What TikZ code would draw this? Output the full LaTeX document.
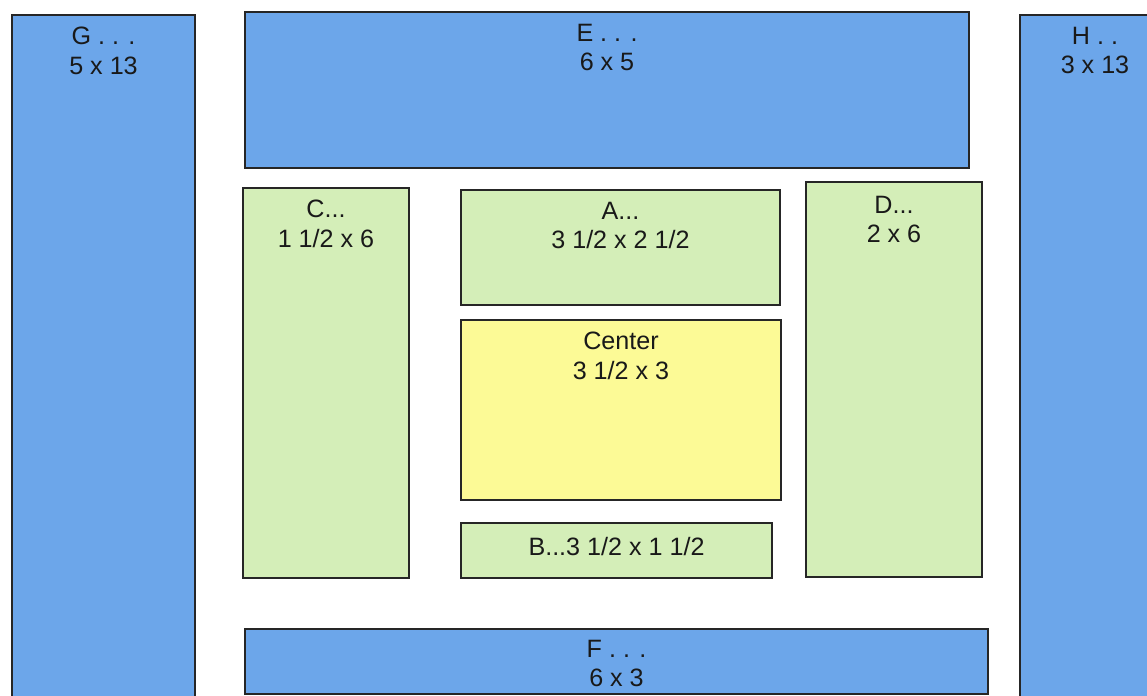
\documentclass[tikz,border=0pt]{standalone}
\usepackage{fontspec}
\setmainfont{Liberation Sans}
\usetikzlibrary{fit}

\definecolor{bedblue}{RGB}{108,166,234}
\definecolor{bedgreen}{RGB}{212,238,184}
\definecolor{bedyellow}{RGB}{252,250,150}

\begin{document}
\begin{tikzpicture}[x=0.02cm, y=-0.02cm,
  bed/.style={draw=black!85, line width=1.2pt, inner sep=0pt},
  outer/.style={bed, fill=bedblue},
  inner/.style={bed, fill=bedgreen},
  middle/.style={bed, fill=bedyellow},
  words/.style={inner sep=0pt, align=center,
    font=\fontsize{14.3}{17}\selectfont, text=black!90},
  txt/.style={words, anchor=north, yshift=-0.25cm}]
\useasboundingbox (0,0) rectangle (1147,696);
\clip (0,0) rectangle (1147,696);
\fill[white] (0,0) rectangle (1147,696);
% outer ring
\node[outer, fit={(12,15) (195,720)}, label={[txt]north:G . . .\\5 x 13}] (G) {};
\node[outer, fit={(245,12) (969,168)}, label={[txt]north:E . . .\\6 x 5}] (E) {};
\node[outer, fit={(1020,15) (1170,720)}, label={[txt]north:H . .\\3 x 13}] (H) {};
\node[outer, fit={(245,629) (988,694)}, label={[txt, yshift=0.02cm]north:F . . .\\6 x 3}] (F) {};
% inner ring
\node[inner, fit={(243,188) (409,578)}, label={[txt]north:C...\\1 1/2 x 6}] (C) {};
\node[inner, fit={(461,190) (780,305)}, label={[txt]north:A...\\3 1/2 x 2 1/2}] (A) {};
\node[inner, fit={(806,182) (982,577)}, label={[txt, yshift=-0.04cm]north:D...\\2 x 6}] (D) {};
\node[inner, fit={(461,523) (772,578)}, label={[words, anchor=center, yshift=0.08cm]center:B...3 1/2 x 1 1/2}] (B) {};
% center
\node[middle, fit={(461,320) (781,500)}, label={[txt]north:Center\\3 1/2 x 3}] (Center) {};
\end{tikzpicture}
\end{document}
